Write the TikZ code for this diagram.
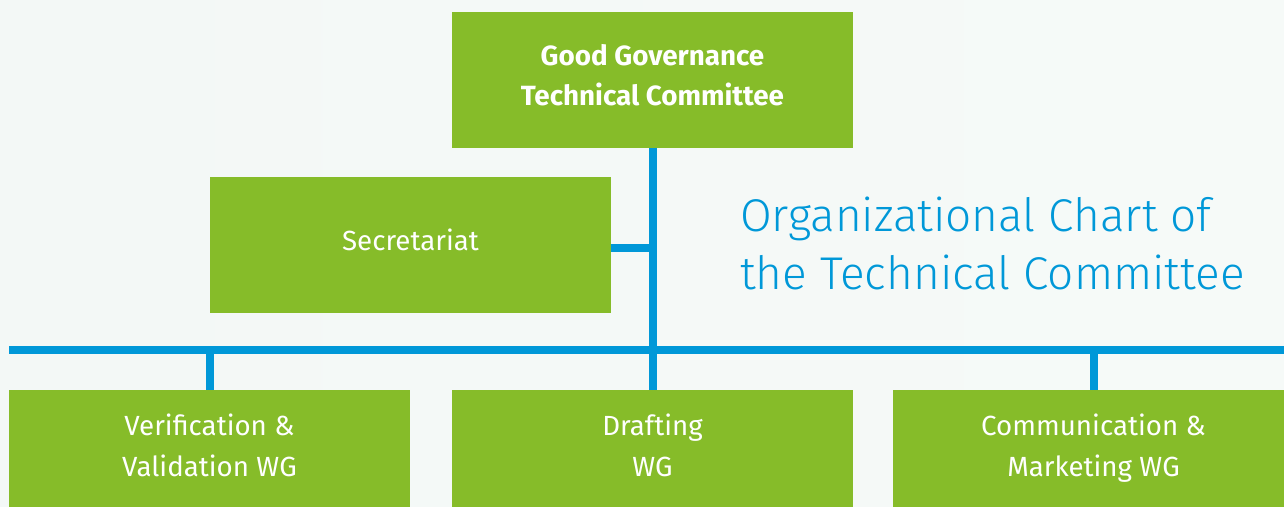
\documentclass[tikz,border=0pt]{standalone}
\usepackage{fontspec}
\setmainfont{Fira Sans}
\newfontfamily\firalight{Fira Sans Light}
\usetikzlibrary{calc}
\definecolor{boxgreen}{RGB}{134,188,41}
\definecolor{lineblue}{RGB}{0,152,216}
\definecolor{bgcol}{RGB}{243,248,246}
\definecolor{bgcolb}{RGB}{246,250,248}
\tikzset{
  orgbox/.style={fill=boxgreen, draw=none, minimum width=401pt, minimum height=136pt, inner sep=0pt},
  boxtext/.style={text=white, align=center, font=\fontsize{27.7}{41.5}\selectfont, inner sep=0pt},
  conn/.style={draw=lineblue, line width=8pt},
}
\begin{document}
\begin{tikzpicture}[x=1pt,y=-1pt]
\clip (0,0) rectangle (1284,506);
\shade[left color=bgcol, right color=bgcolb] (0,0) rectangle (1284,506);
% boxes
\node[orgbox] (top) at (652.5,80) {};
\node[orgbox] (sec) at (410.5,245) {};
\node[orgbox] (vw) at (209.5,458) {};
\node[orgbox] (dr) at (652.5,458) {};
\node[orgbox] (cm) at (1093.5,458) {};
% texts
\node[boxtext, font=\bfseries\fontsize{27.8}{40}\selectfont] (toptext) at ($(top.center)+(0,-3)$) {Good Governance\strut\\Technical Committee\strut};
\node[boxtext, font=\fontsize{27.7}{40}\selectfont] (sectext) at ($(sec.center)+(0,-2.7)$) {Secretariat\strut};
\node[boxtext] (vwtext) at ($(vw.center)+(0,-10.2)$) {Verification \&\strut\\Validation WG\strut};
\node[boxtext] (drtext) at ($(dr.center)+(0,-10.2)$) {Drafting\strut\\WG\strut};
\node[boxtext] (cmtext) at ($(cm.center)+(0,-10.2)$) {Communication \&\strut\\Marketing WG\strut};
% title
\node[anchor=north west, align=left, text=lineblue, inner sep=0pt, font=\firalight\fontsize{45.9}{58}\selectfont] (title) at (740,190.5) {Organizational Chart of\strut\\the Technical Committee\strut};
% connectors
\coordinate (busL) at (9,350);
\coordinate (busR) at (1290,350);
\draw[conn] (top.south) -- (dr.north);
\draw[conn] ([yshift=-3pt]sec.east) -- ([yshift=-3pt]sec.east -| top.south);
\draw[conn] (busL) -- (busR);
\draw[conn] (vw.north) -- (vw.north |- busL);
\draw[conn] (cm.north) -- (cm.north |- busL);
\end{tikzpicture}
\end{document}
